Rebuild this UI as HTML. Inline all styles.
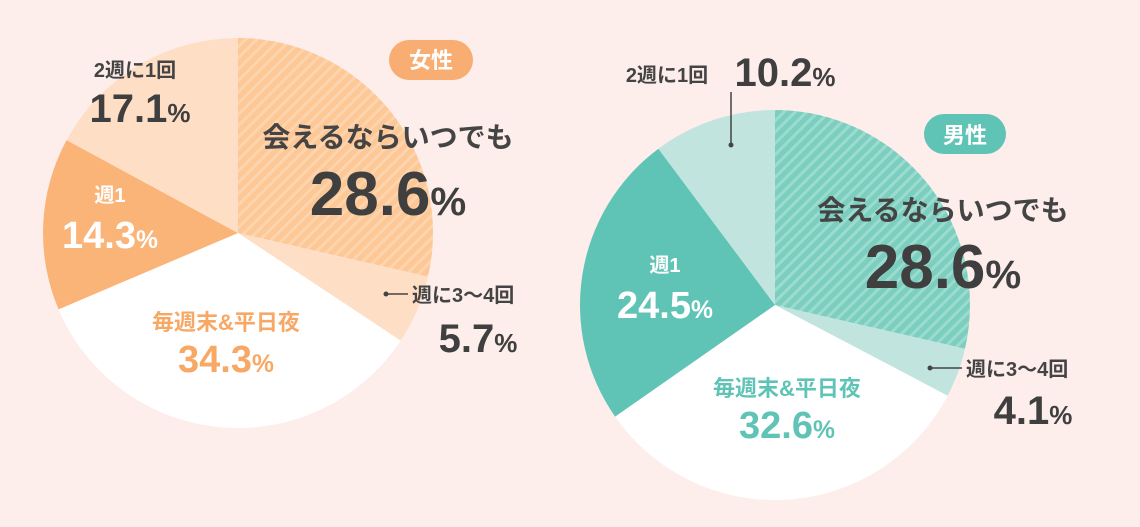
<!DOCTYPE html>
<html><head><meta charset="utf-8"><style>
html,body{margin:0;padding:0;background:#fdeeeb;}
svg{display:block;font-family:"Liberation Sans","Noto Sans CJK JP",sans-serif;font-weight:bold;}
.p{font-size:65%;}
</style></head><body>
<svg id="s" width="1140" height="527" viewBox="0 0 1140 527" xmlns="http://www.w3.org/2000/svg">
<defs>
<pattern id="ho" patternUnits="userSpaceOnUse" width="8" height="8" patternTransform="rotate(45)">
<rect width="8" height="8" fill="#fdc796"/><rect width="3" height="8" fill="#fcd5ae"/></pattern>
<pattern id="ht" patternUnits="userSpaceOnUse" width="8" height="8" patternTransform="rotate(45)">
<rect width="8" height="8" fill="#7ccebf"/><rect width="3" height="8" fill="#9cdbd0"/></pattern>
</defs>
<g id="L"></g><g id="R"></g>
<rect x="389" y="40" width="84" height="40" rx="20" fill="#f8ae72"/>
<text x="431" y="68" font-size="22" fill="#fff" text-anchor="middle">女性</text>
<text x="388" y="147" font-size="28" fill="#444" text-anchor="middle">会えるならいつでも</text>
<text x="388" y="215" font-size="62" fill="#3f3f3f" text-anchor="middle">28.6<tspan class="p">%</tspan></text>
<text x="135" y="77" font-size="20" fill="#444" text-anchor="middle">2週に1回</text>
<text x="140" y="122" font-size="40" fill="#3f3f3f" text-anchor="middle">17.1<tspan class="p">%</tspan></text>
<text x="110" y="202" font-size="20" fill="#fff" text-anchor="middle">週1</text>
<text x="110" y="248" font-size="38" fill="#fff" text-anchor="middle">14.3<tspan class="p">%</tspan></text>
<text x="226" y="330" font-size="22" fill="#f8a865" text-anchor="middle">毎週末&amp;平日夜</text>
<text x="226" y="372" font-size="38" fill="#f8a865" text-anchor="middle">34.3<tspan class="p">%</tspan></text>
<line x1="386" y1="294" x2="408" y2="294" stroke="#444" stroke-width="1.5"/><circle cx="386" cy="294" r="2.5" fill="#444"/>
<text x="412" y="302" font-size="20" fill="#444">週に3〜4回</text>
<text x="478" y="352" font-size="40" fill="#3f3f3f" text-anchor="middle">5.7<tspan class="p">%</tspan></text>
<rect x="924" y="114" width="82" height="40" rx="20" fill="#5fc4b6"/>
<text x="965" y="143" font-size="22" fill="#fff" text-anchor="middle">男性</text>
<text x="943" y="220" font-size="28" fill="#444" text-anchor="middle">会えるならいつでも</text>
<text x="943" y="288" font-size="62" fill="#3f3f3f" text-anchor="middle">28.6<tspan class="p">%</tspan></text>
<text x="667" y="82" font-size="20" fill="#444" text-anchor="middle">2週に1回</text>
<text x="785" y="86" font-size="40" fill="#3f3f3f" text-anchor="middle">10.2<tspan class="p">%</tspan></text>
<line x1="731" y1="92" x2="731" y2="145" stroke="#444" stroke-width="1.5"/><circle cx="731" cy="145" r="2.5" fill="#444"/>
<text x="665" y="272" font-size="20" fill="#fff" text-anchor="middle">週1</text>
<text x="665" y="318" font-size="38" fill="#fff" text-anchor="middle">24.5<tspan class="p">%</tspan></text>
<text x="787" y="396" font-size="22" fill="#5fc4b6" text-anchor="middle">毎週末&amp;平日夜</text>
<text x="787" y="438" font-size="38" fill="#5fc4b6" text-anchor="middle">32.6<tspan class="p">%</tspan></text>
<line x1="930" y1="368" x2="962" y2="368" stroke="#444" stroke-width="1.5"/><circle cx="930" cy="368" r="2.5" fill="#444"/>
<text x="966" y="376" font-size="20" fill="#444">週に3〜4回</text>
<text x="1033" y="424" font-size="40" fill="#3f3f3f" text-anchor="middle">4.1<tspan class="p">%</tspan></text>
</svg>
<script>
function pie(g,cx,cy,r,data){
 var a=0,h='';
 data.forEach(function(d){
  var a2=a+d[0]/100*2*Math.PI;
  var x1=cx+r*Math.sin(a),y1=cy-r*Math.cos(a),x2=cx+r*Math.sin(a2),y2=cy-r*Math.cos(a2);
  h+='<path d="M'+cx+','+cy+' L'+x1+','+y1+' A'+r+','+r+' 0 '+((a2-a)>Math.PI?1:0)+' 1 '+x2+','+y2+' Z" fill="'+d[1]+'"/>';
  a=a2;
 });
 document.getElementById(g).innerHTML=h;
}
pie('L',238,233,195,[[28.6,'url(#ho)'],[5.7,'#fedfc6'],[34.3,'#ffffff'],[14.3,'#fbb478'],[17.1,'#fedfc6']]);
pie('R',775,305,195,[[28.6,'url(#ht)'],[4.1,'#c1e5de'],[32.6,'#ffffff'],[24.5,'#5fc4b6'],[10.2,'#c1e5de']]);
</script>
</body></html>
